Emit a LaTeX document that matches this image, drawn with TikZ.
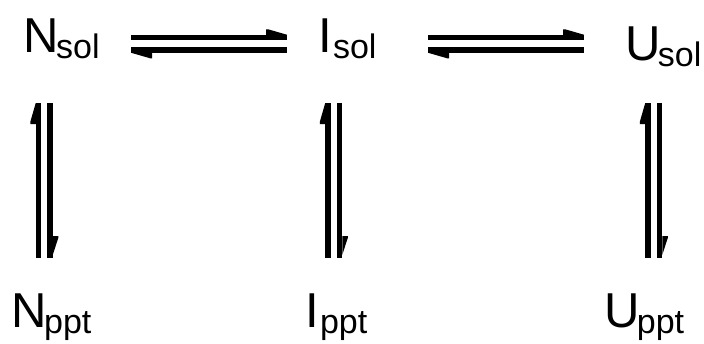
\documentclass[tikz,border=0pt]{standalone}
\usepackage{fontspec}
\setmainfont{Liberation Sans}
\newcommand\spc[3][-2.5pt]{\fontsize{49}{50}\selectfont #2\kern#1\raisebox{-6.5pt}{\fontsize{34}{36}\selectfont #3}}
\tikzset{
  lbl/.style={anchor=base west, inner sep=0pt, outer sep=0pt},
  bar/.style={line width=5.5pt, line cap=butt},
  barb/.style={fill=black}
}
\begin{document}
\begin{tikzpicture}[x=1pt, y=-1pt]
\useasboundingbox (0,0) rectangle (704,343);
% species
\node[lbl] (nsol) at (23.3,52) {\spc{N}{sol}};
\node[lbl] (isol) at (318.4,52) {\spc[1pt]{I}{sol}};
\node[lbl] (usol) at (625,60) {\spc{U}{sol}};
\node[lbl] (nppt) at (11.3,327) {\spc{N}{ppt}};
\node[lbl] (ippt) at (305.4,327) {\spc[1pt]{I}{ppt}};
\node[lbl] (uppt) at (604,327) {\spc{U}{ppt}};
% horizontal equilibria: upper line forward, lower line back
\coordinate (a1ul) at (131,37.5); \coordinate (a1ur) at (287,37.5);
\coordinate (a1ll) at (131,50);   \coordinate (a1lr) at (287,50);
\coordinate (a2ul) at (428,37.5); \coordinate (a2ur) at (584,37.5);
\coordinate (a2ll) at (428,50);   \coordinate (a2lr) at (584,50);
\foreach \a in {a1,a2}{
  \draw[bar] (\a ul) -- (\a ur);
  \draw[bar] (\a ll) -- (\a lr);
  \fill[barb] (\a ur) ++(0,-2.75) -- ++(-19,-5.5) -- ++(-2,0) -- ++(0,5.5) -- cycle;
  \fill[barb] (\a ll) ++(0,2.75) -- ++(19,5.5) -- ++(2,0) -- ++(0,-5.5) -- cycle;
}
% vertical equilibria: left line up, right line down
\coordinate (vnlt) at (38.5,103); \coordinate (vnlb) at (38.5,258);
\coordinate (vnrt) at (50,103);   \coordinate (vnrb) at (50,258);
\coordinate (vilt) at (328,103);  \coordinate (vilb) at (328,258);
\coordinate (virt) at (339.5,103);\coordinate (virb) at (339.5,258);
\coordinate (vult) at (648,103);  \coordinate (vulb) at (648,258);
\coordinate (vurt) at (659.5,103);\coordinate (vurb) at (659.5,258);
\foreach \v in {vn,vi,vu}{
  \draw[bar] (\v lt) -- (\v lb);
  \draw[bar] (\v rt) -- (\v rb);
  \fill[barb] (\v lt) ++(-2.75,0) -- ++(-5.5,19) -- ++(0,2) -- ++(5.5,0) -- cycle;
  \fill[barb] (\v rb) ++(2.75,-3) -- ++(5.5,-17) -- ++(0,-2) -- ++(-5.5,0) -- cycle;
}
\end{tikzpicture}
\end{document}
